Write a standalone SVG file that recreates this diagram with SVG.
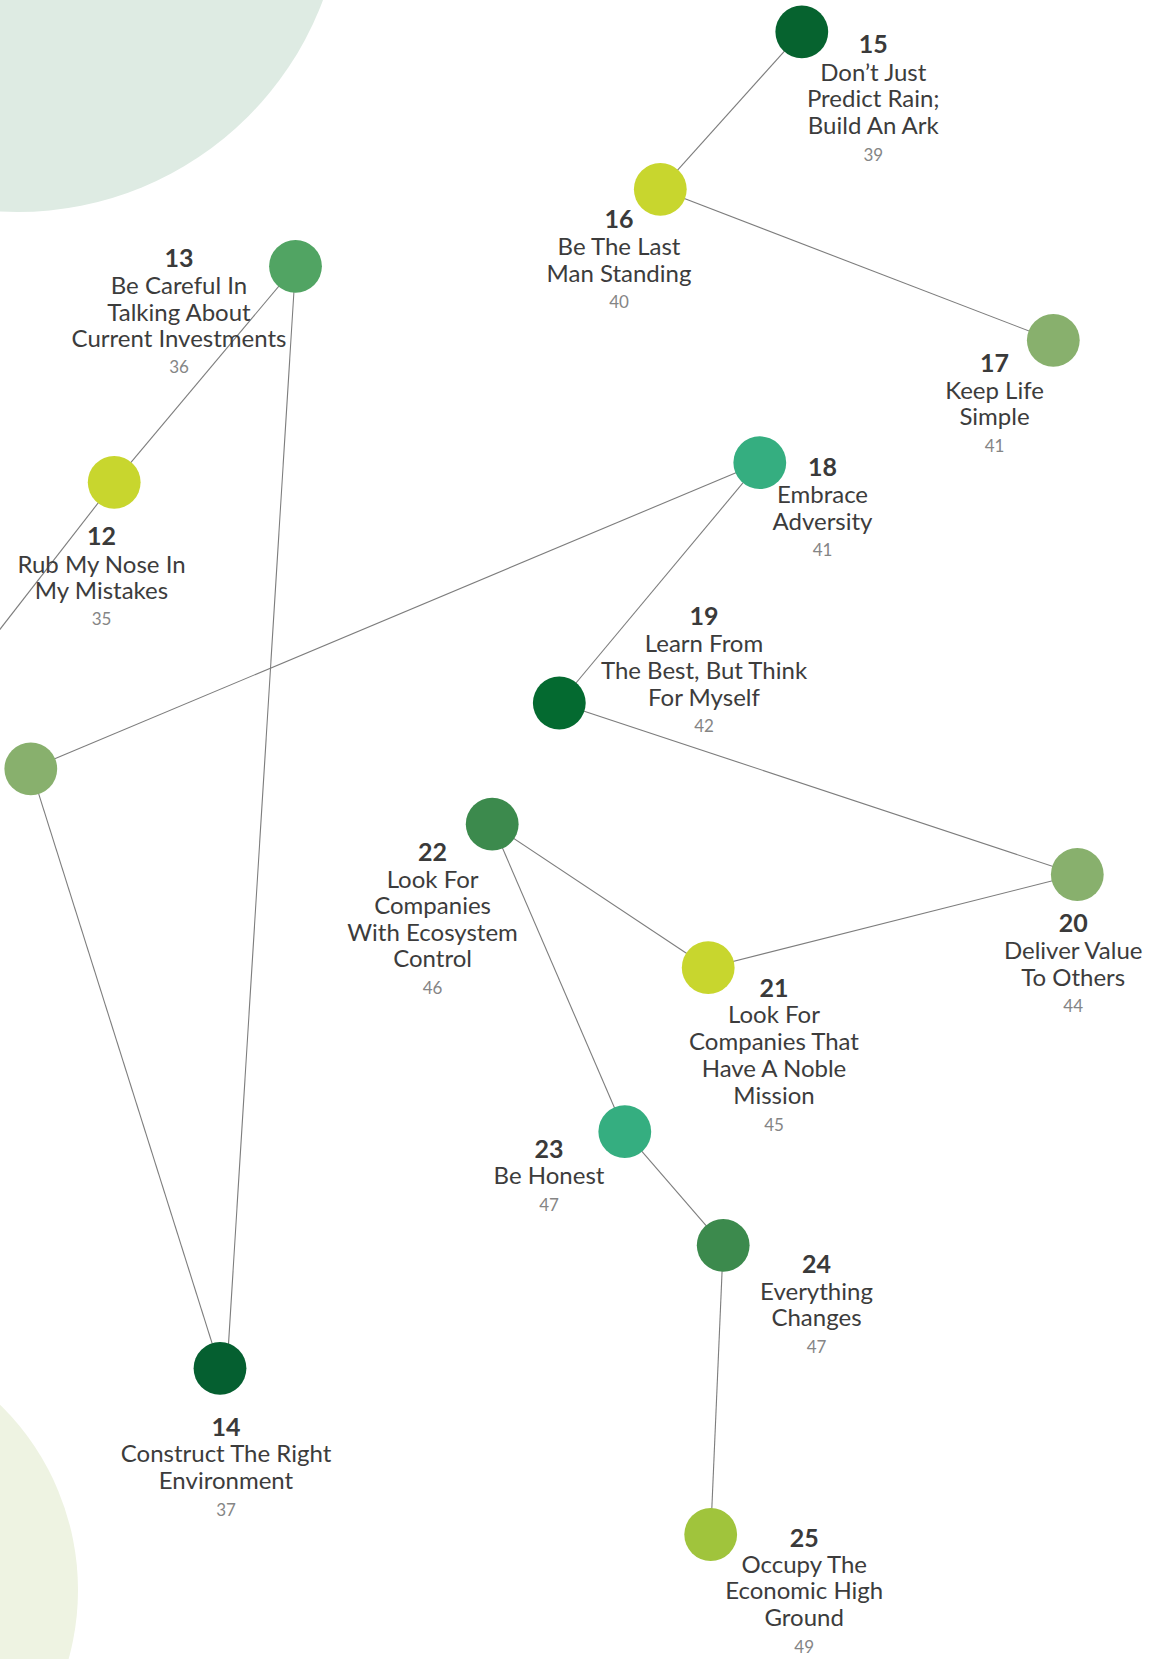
<svg xmlns="http://www.w3.org/2000/svg" width="1155" height="1659" viewBox="0 0 1155 1659">
<style>
.bg{stroke:none}
.edge{stroke:#7d7d7d;stroke-width:1.1;fill:none}
.n{stroke:none}
text{font-family:Lato,"Open Sans","Liberation Sans",sans-serif;text-anchor:middle}
.num{font-size:25px;font-weight:700;fill:#3a3a3a}
.t{font-size:24px;fill:#3c3c3c}
.p{font-size:17px;fill:#858585}
</style>
<rect width="1155" height="1659" fill="#ffffff"/>
<g id="background">
<circle class="bg" cx="17.6" cy="-114" r="326" fill="#deebe3"/>
<circle class="bg" cx="-181" cy="1590" r="259" fill="#eef3e2"/>
</g>
<g id="connectors">
<line class="edge" x1="801.8" y1="31.8" x2="660.3" y2="189.3"/>
<line class="edge" x1="660.3" y1="189.3" x2="1053.3" y2="340.3"/>
<line class="edge" x1="295.5" y1="266.3" x2="114.2" y2="482.3"/>
<line class="edge" x1="114.2" y1="482.3" x2="-20" y2="655"/>
<line class="edge" x1="295.5" y1="266.3" x2="227" y2="1368.3"/>
<line class="edge" x1="759.8" y1="462.7" x2="30.8" y2="768.8"/>
<line class="edge" x1="30.8" y1="768.8" x2="220" y2="1368.3"/>
<line class="edge" x1="759.8" y1="462.7" x2="559.3" y2="703"/>
<line class="edge" x1="559.3" y1="703" x2="1077.3" y2="874.5"/>
<line class="edge" x1="1077.3" y1="874.5" x2="708.2" y2="967.7"/>
<line class="edge" x1="708.2" y1="967.7" x2="492.2" y2="824.2"/>
<line class="edge" x1="492.2" y1="824.2" x2="624.8" y2="1131.7"/>
<line class="edge" x1="624.8" y1="1131.7" x2="723.2" y2="1245.3"/>
<line class="edge" x1="723.2" y1="1245.3" x2="710.7" y2="1534.5"/>
</g>
<g id="node-11">
<circle class="n" cx="30.8" cy="768.8" r="26.4" fill="#88b06d"/>
</g>
<g id="node-12">
<circle class="n" cx="114.2" cy="482.3" r="26.4" fill="#c8d62e"/>
<text x="101.5" y="545" class="num">12</text>
<text class="t"><tspan x="101.5" y="572.5">Rub My Nose In</tspan><tspan x="101.5" y="599">My Mistakes</tspan></text>
<text x="101.5" y="625" class="p">35</text>
</g>
<g id="node-13">
<circle class="n" cx="295.5" cy="266.3" r="26.4" fill="#51a463"/>
<text x="179" y="266.5" class="num">13</text>
<text class="t"><tspan x="179" y="294">Be Careful In</tspan><tspan x="179" y="320.5">Talking About</tspan><tspan x="179" y="347">Current Investments</tspan></text>
<text x="179" y="373.3" class="p">36</text>
</g>
<g id="node-14">
<circle class="n" cx="220" cy="1368.3" r="26.4" fill="#055f30"/>
<text x="226" y="1435.7" class="num">14</text>
<text class="t"><tspan x="226" y="1462.3">Construct The Right</tspan><tspan x="226" y="1489">Environment</tspan></text>
<text x="226" y="1515.7" class="p">37</text>
</g>
<g id="node-15">
<circle class="n" cx="801.8" cy="31.8" r="26.4" fill="#06632f"/>
<text x="873.3" y="53.3" class="num">15</text>
<text class="t"><tspan x="873.3" y="80.7">Don’t Just</tspan><tspan x="873.3" y="107.3">Predict Rain;</tspan><tspan x="873.3" y="133.5">Build An Ark</tspan></text>
<text x="873.3" y="161" class="p">39</text>
</g>
<g id="node-16">
<circle class="n" cx="660.3" cy="189.3" r="26.4" fill="#c8d62e"/>
<text x="619" y="228.3" class="num">16</text>
<text class="t"><tspan x="619" y="255">Be The Last</tspan><tspan x="619" y="281.7">Man Standing</tspan></text>
<text x="619" y="308.3" class="p">40</text>
</g>
<g id="node-17">
<circle class="n" cx="1053.3" cy="340.3" r="26.4" fill="#88b06d"/>
<text x="994.5" y="371.7" class="num">17</text>
<text class="t"><tspan x="994.5" y="399">Keep Life</tspan><tspan x="994.5" y="425">Simple</tspan></text>
<text x="994.5" y="451.7" class="p">41</text>
</g>
<g id="node-18">
<circle class="n" cx="759.8" cy="462.7" r="26.4" fill="#35ae80"/>
<text x="822.5" y="475.7" class="num">18</text>
<text class="t"><tspan x="822.5" y="502.7">Embrace</tspan><tspan x="822.5" y="529.5">Adversity</tspan></text>
<text x="822.5" y="556" class="p">41</text>
</g>
<g id="node-19">
<circle class="n" cx="559.3" cy="703" r="26.4" fill="#046a30"/>
<text x="704" y="625" class="num">19</text>
<text class="t"><tspan x="704" y="652.3">Learn From</tspan><tspan x="704" y="679">The Best, But Think</tspan><tspan x="704" y="705.7">For Myself</tspan></text>
<text x="704" y="732.3" class="p">42</text>
</g>
<g id="node-20">
<circle class="n" cx="1077.3" cy="874.5" r="26.4" fill="#88b06d"/>
<text x="1073.2" y="931.7" class="num">20</text>
<text class="t"><tspan x="1073.2" y="959.3">Deliver Value</tspan><tspan x="1073.2" y="985.7">To Others</tspan></text>
<text x="1073.2" y="1012.3" class="p">44</text>
</g>
<g id="node-21">
<circle class="n" cx="708.2" cy="967.7" r="26.4" fill="#c8d62e"/>
<text x="774" y="996.7" class="num">21</text>
<text class="t"><tspan x="774" y="1023.3">Look For</tspan><tspan x="774" y="1050">Companies That</tspan><tspan x="774" y="1076.7">Have A Noble</tspan><tspan x="774" y="1103.5">Mission</tspan></text>
<text x="774" y="1130.5" class="p">45</text>
</g>
<g id="node-22">
<circle class="n" cx="492.2" cy="824.2" r="26.4" fill="#3c8a4d"/>
<text x="432.6" y="860.7" class="num">22</text>
<text class="t"><tspan x="432.6" y="887.7">Look For</tspan><tspan x="432.6" y="914">Companies</tspan><tspan x="432.6" y="941">With Ecosystem</tspan><tspan x="432.6" y="967.3">Control</tspan></text>
<text x="432.6" y="994.3" class="p">46</text>
</g>
<g id="node-23">
<circle class="n" cx="624.8" cy="1131.7" r="26.4" fill="#35ae80"/>
<text x="549" y="1157.7" class="num">23</text>
<text class="t"><tspan x="549" y="1184.3">Be Honest</tspan></text>
<text x="549" y="1211" class="p">47</text>
</g>
<g id="node-24">
<circle class="n" cx="723.2" cy="1245.3" r="26.4" fill="#3c8a4d"/>
<text x="816.5" y="1272.7" class="num">24</text>
<text class="t"><tspan x="816.5" y="1300">Everything</tspan><tspan x="816.5" y="1326">Changes</tspan></text>
<text x="816.5" y="1352.7" class="p">47</text>
</g>
<g id="node-25">
<circle class="n" cx="710.7" cy="1534.5" r="26.4" fill="#a0c43c"/>
<text x="804.2" y="1546.7" class="num">25</text>
<text class="t"><tspan x="804.2" y="1572.7">Occupy The</tspan><tspan x="804.2" y="1599.3">Economic High</tspan><tspan x="804.2" y="1626">Ground</tspan></text>
<text x="804.2" y="1652.7" class="p">49</text>
</g>
</svg>
